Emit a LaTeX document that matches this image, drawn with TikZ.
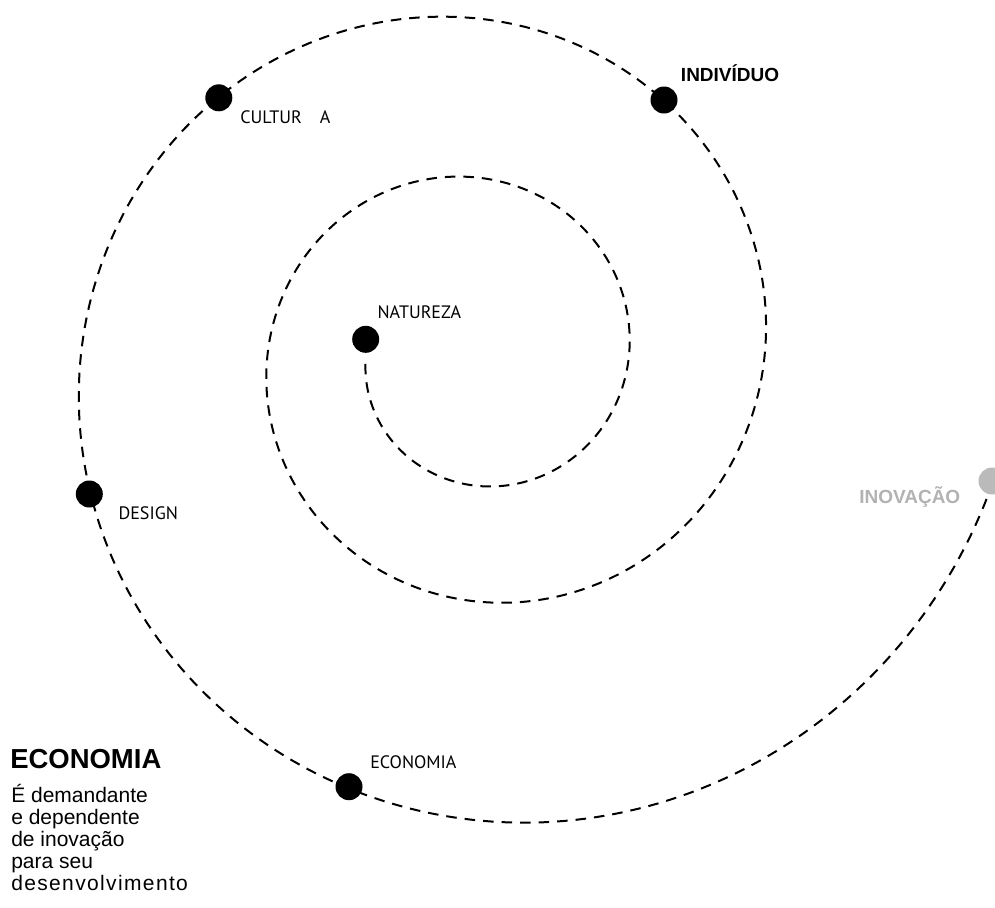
\documentclass[tikz,border=0pt]{standalone}
\usepackage{fontspec}
\setmainfont{Liberation Sans}
\newfontfamily\labelfont{PT Sans}
\begin{document}
\begin{tikzpicture}[x=0.75pt, y=-0.75pt,
  spiral/.style={line width=1.5pt, dash pattern=on 7.9pt off 6pt, line join=round},
  dot/.style={circle, fill=black, inner sep=0pt, minimum size=20.25pt},
  faint dot/.style={dot, fill=black!27},
  minor/.style={font=\labelfont\fontsize{13.5}{16}\selectfont, inner sep=0pt, anchor=base west},
  major/.style={font=\bfseries\fontsize{14.25}{17}\selectfont, inner sep=0pt, anchor=base west},
  heading/.style={font=\bfseries\fontsize{20.6}{23}\selectfont, inner sep=0pt, anchor=base west},
  body/.style={font=\fontsize{15.75}{16.5}\selectfont, inner sep=0pt, anchor=base west}]
\useasboundingbox (0,0) rectangle (995,907);

% logarithmic spiral, growing outward from NATUREZA
\draw[spiral] plot[domain=4:885, samples=700, variable=\t]
  ({476.7 - 110.7*exp(0.0017733*\t)*cos(\t)}, {356 + 110.7*exp(0.0017733*\t)*sin(\t)});

% stations on the spiral
\node[dot] (natureza) at (365.7,339.3) {};
\node[dot] (cultura) at (218.8,97.8) {};
\node[dot] (individuo) at (664,100) {};
\node[dot] (design) at (89.3,494) {};
\node[dot] (economia) at (349,786.7) {};
\node[faint dot] (inovacao) at (992,481) {};

% station labels
\node[minor] (natureza-l) at (377.3,318.3) {NATUREZA};
\node[minor] (cultura-l) at (240,123.3) {CULTUR\hspace{1.0em}A};
\node[minor] (design-l) at (118.3,519.5) {DESIGN};
\node[minor] (economia-l) at (370,768.3) {ECONOMIA};
\node[major] (individuo-l) at (680.7,81.7) {INDIVÍDUO};
\node[major, text=black!30] (inovacao-l) at (859,503.3) {INOVAÇÃO};

% side note
\node[heading] (note-title) at (10,768) {ECONOMIA};
\foreach \line [count=\i] in {É demandante, e dependente, de inovação, para seu}
  \node[body] (note-\i) at (11,{802+22*(\i-1)}) {\line};
\node[body] (note-5) at (11,890) {\addfontfeature{LetterSpace=6.5}desenvolvimento};
\end{tikzpicture}
\end{document}
